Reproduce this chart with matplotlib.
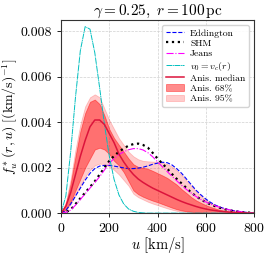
import numpy as np
import matplotlib
matplotlib.use("Agg")
import matplotlib.pyplot as plt
from matplotlib.ticker import FormatStrFormatter

plt.rcParams["font.family"]="serif"
plt.rcParams["font.serif"]=["cmr10"]
plt.rcParams["mathtext.fontset"]="cm"
plt.rcParams["axes.formatter.use_mathtext"]=True

# speed grid [km/s]
u=np.arange(0,801,20)

eddington=[0,0.00012,0.0004,0.00075,0.0011,0.00145,0.00175,0.00196,0.00207,0.0021,
0.0021,0.00207,0.00203,0.00199,0.00196,0.00196,0.00198,0.00202,0.00208,0.00215,
0.0022,0.00224,0.00222,0.00212,0.00195,0.00175,0.0015,0.00125,0.001,0.0008,
0.00062,0.00047,0.00035,0.00026,0.00019,0.00014,0.0001,0.00007,0.00004,0.00002,0.00001]

shm=[0,0.00004,0.00015,0.0004,0.00065,0.0009,0.00115,0.0014,0.0017,0.002,
0.0023,0.00252,0.0027,0.00285,0.00297,0.00304,0.00306,0.003,0.00288,0.00265,
0.0024,0.00218,0.00196,0.00172,0.0015,0.0013,0.0011,0.0009,0.00074,0.0006,
0.00048,0.00038,0.0003,0.00023,0.00017,0.00012,0.00008,0.00005,0.00003,0.00002,0.00001]

jeans=[0,0.00003,0.00013,0.00035,0.0006,0.00085,0.0011,0.00135,0.0016,0.0019,
0.0022,0.0024,0.00258,0.0027,0.00279,0.00284,0.00284,0.00278,0.00266,0.00248,
0.00226,0.00204,0.00183,0.00162,0.00142,0.00122,0.00104,0.00088,0.00073,0.0006,
0.00049,0.0004,0.00032,0.00025,0.00019,0.00014,0.0001,0.00007,0.00004,0.00002,0.00001]

vc=[0,0.00075,0.0027,0.00511,0.00715,0.00821,0.0081,0.00706,0.00552,0.0039,
0.00251,0.00148,0.0008,0.0004,0.00018,0.00008,0.00003,0.00001,0,0,
0,0,0,0,0,0,0,0,0,0,
0,0,0,0,0,0,0,0,0,0,0]

median=[0,0.0003,0.0009,0.0017,0.0025,0.0032,0.0038,0.0041,0.0041,0.0039,
0.0035,0.0031,0.0026,0.00225,0.00195,0.0017,0.0015,0.00135,0.00122,0.0011,
0.001,0.0009,0.0008,0.0007,0.0006,0.00051,0.00043,0.00036,0.00029,0.00023,
0.00018,0.00014,0.00011,0.00008,0.00006,0.00004,0.00003,0.00002,0.00001,0,0]

lo68=[0,0.00015,0.0005,0.001,0.0015,0.002,0.0024,0.0028,0.00288,0.0028,
0.0026,0.0023,0.0021,0.0018,0.0014,0.001,0.00083,0.00072,0.00063,0.00055,
0.00048,0.0004,0.00032,0.00024,0.00017,0.00012,0.00008,0.00006,0.00004,0.00003,
0.00002,0.00001,0,0,0,0,0,0,0,0,0]

hi68=[0,0.0004,0.0013,0.0025,0.0036,0.0044,0.0049,0.005,0.0048,0.0043,
0.0037,0.0033,0.003,0.0027,0.0024,0.00215,0.00203,0.002,0.00195,0.00186,
0.00176,0.00166,0.00155,0.0014,0.00125,0.00105,0.00088,0.0007,0.00056,0.00045,
0.00035,0.00027,0.0002,0.00014,0.0001,0.00007,0.00005,0.00003,0.00002,0.00001,0]

lo95=[0,0.00012,0.0004,0.0008,0.0012,0.0016,0.0019,0.0021,0.00218,0.00215,
0.00205,0.0019,0.0017,0.00145,0.0012,0.00085,0.0007,0.0006,0.0005,0.00042,
0.00035,0.00028,0.00021,0.00015,0.0001,0.00007,0.00005,0.00003,0.00002,0.00001,
0,0,0,0,0,0,0,0,0,0,0]

hi95=[0,0.0005,0.0015,0.0028,0.0039,0.0047,0.0051,0.00523,0.0051,0.0046,
0.0041,0.0037,0.0033,0.003,0.0027,0.0025,0.00237,0.0023,0.00228,0.00227,
0.00226,0.00222,0.00216,0.00205,0.00188,0.00168,0.00144,0.0012,0.00096,0.00076,
0.00059,0.00045,0.00033,0.00024,0.00017,0.00012,0.00008,0.00005,0.00003,0.00002,0.00001]

fig=plt.figure(figsize=(2.7,2.54),dpi=100)
ax=fig.add_axes([0.226,0.161,0.715,0.76])

ax.plot(u,eddington,color="blue",ls="--",lw=0.8,label="Eddington")
ax.plot(u,shm,color="black",ls=":",lw=1.6,label="SHM")
ax.plot(u,jeans,color="magenta",ls="-.",lw=0.8,label="Jeans")
ax.plot(u,vc,color="c",ls=(0,(6,0.6,1,0.6)),lw=0.7,label=r"$v_0=v_c(r)$")
ax.plot(u,median,color="crimson",lw=1.1,label="Anis. median")
ax.fill_between(u,lo68,hi68,color="red",alpha=0.45,lw=0.6,label="Anis. 68%",zorder=1.5)
ax.fill_between(u,lo95,hi95,color="red",alpha=0.2,lw=0.6,label="Anis. 95%",zorder=1.4)

ax.set_xlim(0,800)
ax.set_ylim(0,0.0085)
ax.set_xticks([0,200,400,600,800])
ax.set_yticks([0,0.002,0.004,0.006,0.008])
ax.yaxis.set_major_formatter(FormatStrFormatter("%.3f"))
ax.tick_params(labelsize=10,length=3,width=0.6)
ax.grid(True,ls="--",lw=0.5,color="#d0d0d0")
ax.set_axisbelow(True)
for s in ax.spines.values():
    s.set_color("#333333")
    s.set_linewidth(0.8)

ax.set_xlabel(r"$u\ [\mathrm{km/s}]$",fontsize=10.5,labelpad=0)
ax.set_ylabel(r"$f_u^*(r,u)\ [(\mathrm{km/s})^{-1}]$",fontsize=10,labelpad=0)
ax.set_title(r"$\gamma=0.25,\ r=100\,\mathrm{pc}$",fontsize=11,pad=3)

ax.legend(loc="upper right",fontsize=7,handlelength=1.9,labelspacing=0.15,
handletextpad=0.6,borderpad=0.4,framealpha=0.9,edgecolor="#d0d0d0")

fig.savefig("out.png",dpi=100)
